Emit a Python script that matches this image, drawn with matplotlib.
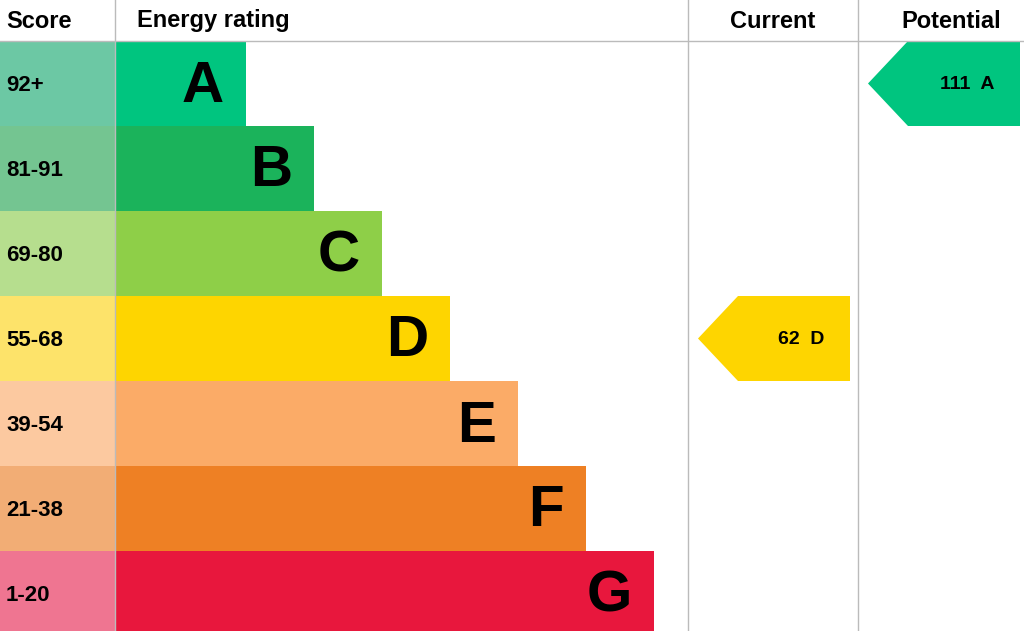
import matplotlib.pyplot as plt
from matplotlib.patches import Rectangle, Polygon

# EPC data
bands = ['A', 'B', 'C', 'D', 'E', 'F', 'G']
ranges = ['92+', '81-91', '69-80', '55-68', '39-54', '21-38', '1-20']
bar_colors = ['#00c57f', '#1bb35b', '#8ecf48', '#fed500', '#fbab67', '#ee8024', '#e8173d']
score_colors = ['#6cc8a4', '#74c591', '#b6de8e', '#fde36a', '#fcc9a0', '#f2ad75', '#ef7591']
current_score, current_band = 62, 'D'
potential_score, potential_band = 111, 'A'

plt.rcParams['font.family'] = ['Liberation Sans', 'DejaVu Sans']
fig = plt.figure(figsize=(10.24, 6.31), dpi=100)
ax = fig.add_axes([0, 0, 1, 1])
ax.set_xlim(0, 1024)
ax.set_ylim(631, 0)
ax.axis('off')

top, rh = 41, 85
ax.plot([0, 1024], [top, top], color='#bbbbbb', lw=1)
for x in (115, 688, 858):
    ax.plot([x, x], [0, 631], color='#bbbbbb', lw=1)

hdr = dict(fontsize=17, fontweight='bold', va='center')
ax.text(6, 21, 'Score', **hdr)
ax.text(137, 21, 'Energy rating', **hdr)
ax.text(773, 21, 'Current', ha='center', **hdr)
ax.text(951, 21, 'Potential', ha='center', **hdr)

for i, b in enumerate(bands):
    y0 = top + i * rh
    end = 246 + 68 * i
    ax.add_patch(Rectangle((0, y0), 115, rh, color=score_colors[i], lw=0))
    ax.add_patch(Rectangle((115, y0), end - 115, rh, color=bar_colors[i], lw=0))
    ax.text(6, y0 + rh / 2 + 2, ranges[i], fontsize=16, fontweight='bold', va='center')
    ax.text(end - 22, y0 + rh / 2 + 3, b, fontsize=42, fontweight='bold', va='center', ha='right')


def arrow(x0, x1, band, score):
    i = bands.index(band)
    y0 = top + i * rh
    ax.add_patch(Polygon([(x0, y0 + rh / 2), (x0 + 40, y0), (x1, y0), (x1, y0 + rh), (x0 + 40, y0 + rh)],
                         color=bar_colors[i], lw=0))
    ax.text(x1 - 26, y0 + rh / 2 + 1, f'{score}  {band}', fontsize=14, fontweight='bold',
            va='center', ha='right')


arrow(698, 850, current_band, current_score)
arrow(868, 1020, potential_band, potential_score)

fig.savefig('out.png', dpi=100)
